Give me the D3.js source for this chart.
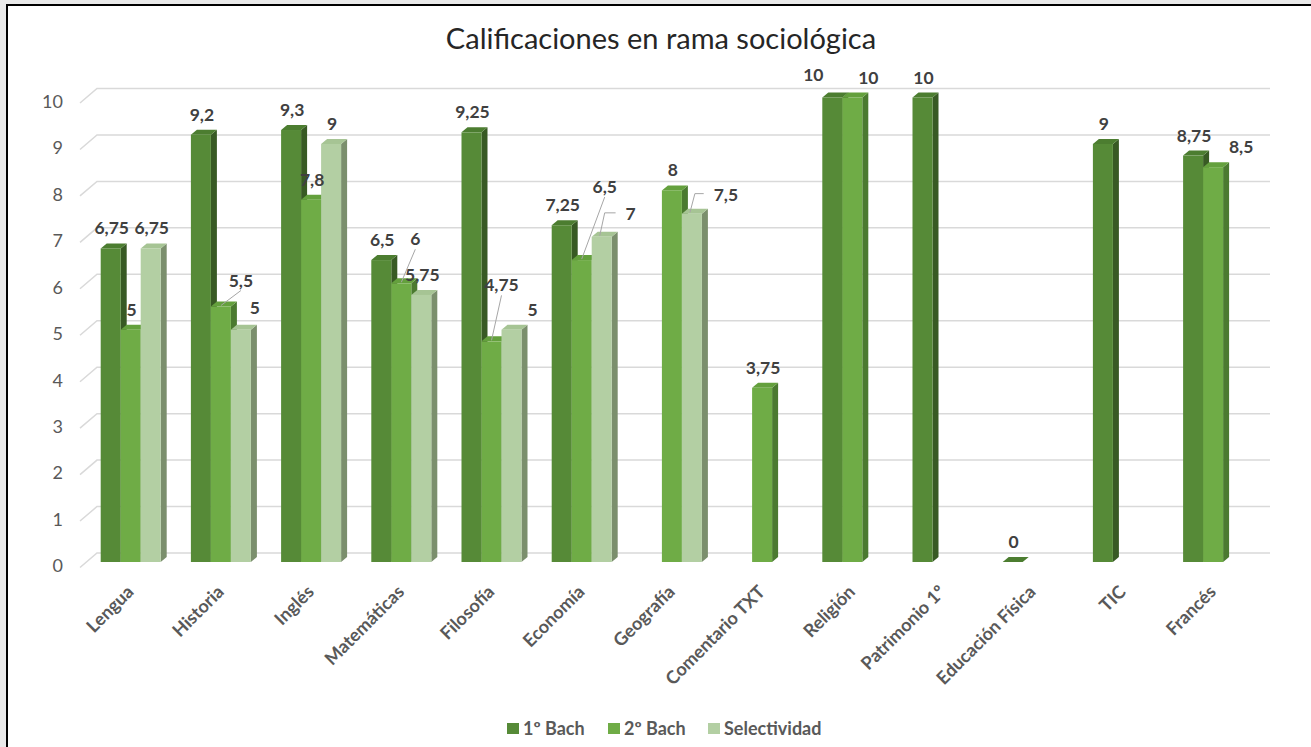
<!DOCTYPE html>
<html lang="es">
<head>
<meta charset="UTF-8">
<title>Calificaciones en rama sociológica</title>
<script src="https://cdnjs.cloudflare.com/ajax/libs/d3/7.8.5/d3.min.js"></script>
<style>
  body { margin: 0; background: #e9e9e9; }
  svg { display: block; font-family: Lato, "Open Sans", sans-serif; }
</style>
</head>
<body>
<svg id="chart" width="1311" height="747"></svg>
<script>
  // data (null = no bar)
  var categories = ["Lengua", "Historia", "Inglés", "Matemáticas", "Filosofía", "Economía",
                    "Geografía", "Comentario TXT", "Religión", "Patrimonio 1º", "Educación Física", "TIC", "Francés"];
  var seriesNames = ["1º Bach", "2º Bach", "Selectividad"];
  var bach1 = [6.75, 9.2, 9.3, 6.5, 9.25, 7.25, null, null, 10, 10, 0, 9, 8.75];
  var bach2 = [5, 5.5, 7.8, 6, 4.75, 6.5, 8, 3.75, 10, null, null, null, 8.5];
  var selectividad = [6.75, 5, 9, 5.75, 5, 7, 7.5, null, null, null, null, null, null];
  var yTicks = [0, 1, 2, 3, 4, 5, 6, 7, 8, 9, 10];

  var series = [bach1, bach2, selectividad];

  // colours per series: front, top, side
  var colors = [
    { front: "#568a37", top: "#4c7d30", side: "#385a24" },
    { front: "#6fac46", top: "#64a03d", side: "#4b7a30" },
    { front: "#b3cfa3", top: "#a6c494", side: "#7b8f6d" }
  ];

  // label nudges where the labels were moved off their bars: [dx, dy, leader]
  var labelMoves = {
    "1-1": [19, -6, "b"],
    "1-2": [13, -2, ""],
    "3-1": [13, -24, "b"],
    "4-1": [9, -36, "b"],
    "4-2": [20, 0, ""],
    "5-1": [22, -53, "b"],
    "5-2": [28, -3, "l"],
    "6-2": [33, 1, "l"],
    "8-0": [-20, -3, ""],
    "8-1": [15, 0, ""],
    "12-1": [27, 0, ""]
  };

  var svg = d3.select("#chart");
  var W = 1311, H = 747;

  // frame
  svg.append("rect").attr("x", 7).attr("y", 5).attr("width", W).attr("height", H)
     .attr("fill", "#fff").attr("stroke", "#000").attr("stroke-width", 2);

  svg.append("text")
     .attr("x", 661).attr("y", 49)
     .attr("text-anchor", "middle")
     .attr("font-size", 29)
     .attr("fill", "#262626")
     .text("Calificaciones en rama sociológica");

  var barW = 20, dx = 6, dy = 5;
  var backX0 = 97, backX1 = 1270, floorDX = 17, floorDY = 14.5, backOff = -9;

  var y = d3.scaleLinear().domain([0, 10]).range([562, 97.5]);
  var x = d3.scaleBand().domain(categories).range([85.6, 85.6 + 90.2 * 13]);
  var xs = d3.scaleBand().domain([0, 1, 2]).range([0, 60]);
  var groupOff = (x.bandwidth() - 60) / 2;

  // back wall grid
  var grid = svg.append("g").attr("stroke", "#d9d9d9").attr("stroke-width", 1.5).attr("fill", "none");
  yTicks.forEach(function (t) {
    var yb = y(t) + backOff;
    grid.append("path")
        .attr("d", "M" + (backX0 - floorDX) + "," + (yb + floorDY) + "L" + backX0 + "," + yb + "H" + backX1);
  });

  // y labels
  svg.append("g").selectAll("text").data(yTicks).join("text")
     .attr("x", 63).attr("y", function (d) { return y(d) + 4; })
     .attr("dy", "0.35em")
     .attr("text-anchor", "end")
     .attr("font-size", 18)
     .attr("fill", "#595959")
     .text(function (d) { return d; });

  // bars
  var bars = svg.append("g");
  categories.forEach(function (c, i) {
    series.forEach(function (s, k) {
      var v = s[i];
      if (v === null) return;
      var x0 = x(c) + groupOff + xs(k), top = y(v), base = y(0);
      var col = colors[k];
      var g = bars.append("g");
      g.append("path").attr("fill", col.side)
       .attr("d", "M" + (x0 + barW) + "," + top + "L" + (x0 + barW + dx) + "," + (top - dy) +
                  "V" + (base - dy) + "L" + (x0 + barW) + "," + base + "Z");
      g.append("path").attr("fill", col.top)
       .attr("d", "M" + x0 + "," + top + "L" + (x0 + dx) + "," + (top - dy) +
                  "H" + (x0 + barW + dx) + "L" + (x0 + barW) + "," + top + "Z");
      g.append("rect").attr("fill", col.front)
       .attr("x", x0).attr("y", top).attr("width", barW).attr("height", base - top);
    });
  });

  // data labels
  var labels = svg.append("g");
  var leaders = svg.append("g").attr("stroke", "#a6a6a6").attr("stroke-width", 1).attr("fill", "none");
  categories.forEach(function (c, i) {
    series.forEach(function (s, k) {
      var v = s[i];
      if (v === null) return;
      var cx = x(c) + groupOff + xs(k) + barW / 2, top = y(v);
      var mv = labelMoves[i + "-" + k] || [0, 0, ""];
      var lx = cx + 1 + mv[0], ly = top - 14 + mv[1];
      var t = labels.append("text")
        .attr("x", lx).attr("y", ly)
        .attr("text-anchor", "middle")
        .attr("font-size", 17.5)
        .attr("font-weight", "bold")
        .attr("fill", "#404040")
        .text(String(v).replace(".", ","));
      var w = t.node().getComputedTextLength();
      if (mv[2] === "b") {
        leaders.append("path").attr("d", "M" + cx + "," + (top - 1) + "L" + lx + "," + (ly + 4));
      } else if (mv[2] === "l") {
        leaders.append("path").attr("d", "M" + (cx - 2) + "," + (top - 1) + "L" + (cx + 3) + "," + (ly - 7) +
                                         "H" + (lx - w / 2 - 10));
      }
    });
  });

  // category labels
  svg.append("g").selectAll("text").data(categories).join("text")
     .attr("transform", function (d) {
       return "translate(" + (x(d) + x.bandwidth() / 2 + 4) + ",593) rotate(-45)";
     })
     .attr("text-anchor", "end")
     .attr("font-size", 18)
     .attr("font-weight", "bold")
     .attr("fill", "#595959")
     .text(function (d) { return d; });

  // legend
  var legX = [507, 608, 708];
  var leg = svg.append("g").selectAll("g").data(seriesNames).join("g")
     .attr("transform", function (d, i) { return "translate(" + legX[i] + ",723)"; });
  leg.append("rect").attr("width", 12).attr("height", 11)
     .attr("fill", function (d, i) { return colors[i].front; });
  leg.append("text").attr("x", 16).attr("y", 5.5).attr("dy", "0.35em")
     .attr("font-size", 18).attr("font-weight", "bold").attr("fill", "#595959")
     .text(function (d) { return d; });
</script>
</body>
</html>
